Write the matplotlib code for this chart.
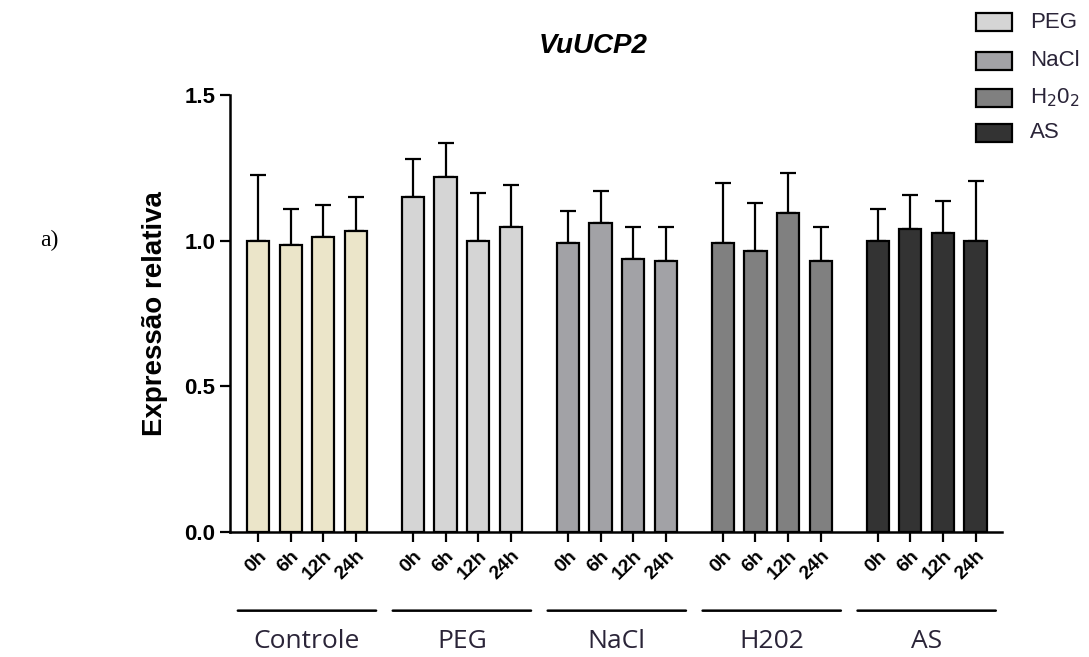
import numpy as np
import matplotlib.pyplot as plt

# dados
groups = ["Controle", "PEG", "NaCl", "H202", "AS"]
times = ["0h", "6h", "12h", "24h"]
colors = ["#ebe5c9", "#d5d5d5", "#a2a2a6", "#808080", "#333333"]

controle_mean = [1.000, 0.986, 1.014, 1.034]
controle_top = [1.225, 1.110, 1.122, 1.150]
peg_mean = [1.150, 1.219, 0.999, 1.047]
peg_top = [1.280, 1.335, 1.163, 1.191]
nacl_mean = [0.992, 1.061, 0.937, 0.930]
nacl_top = [1.102, 1.170, 1.047, 1.047]
h2o2_mean = [0.992, 0.965, 1.095, 0.930]
h2o2_top = [1.199, 1.129, 1.233, 1.047]
as_mean = [0.999, 1.041, 1.026, 0.999]
as_top = [1.108, 1.157, 1.136, 1.204]

means = [controle_mean, peg_mean, nacl_mean, h2o2_mean, as_mean]
tops = [controle_top, peg_top, nacl_top, h2o2_top, as_top]

legend_labels = ["PEG", "NaCl", r"H$_2$0$_2$", "AS"]


def main():
    W, H = 1089, 657
    fig = plt.figure(figsize=(W / 100, H / 100), dpi=100)
    ax = fig.add_axes([230 / W, (H - 532) / H, (1002 - 230) / W, (532 - 95) / H])

    step = 4.75
    width = 0.68
    xs_all, labels_all = [], []
    for g, name in enumerate(groups):
        x = g * step + np.arange(len(times))
        m = np.array(means[g])
        err = np.array(tops[g]) - m
        ax.bar(x, m, width=width, color=colors[g], edgecolor="black",
               linewidth=1.6, zorder=2)
        ax.errorbar(x, m, yerr=[np.zeros_like(err), err], fmt="none",
                    ecolor="black", elinewidth=1.6, capsize=6, capthick=1.6,
                    zorder=1)
        xs_all.extend(x)
        labels_all.extend(times)

        # linha do grupo e nome
        xc = x.mean()
        ax.annotate("", xy=(xc - 2.12, -0.27), xytext=(xc + 2.12, -0.27),
                    xycoords=("data", "data"), annotation_clip=False,
                    arrowprops=dict(arrowstyle="-", lw=1.8, color="black",
                                    shrinkA=0, shrinkB=0))
        ax.text(xc, -0.375, name, ha="center", va="center", fontsize=19,
                family="Open Sans", color="#2a2438", clip_on=False)

    ax.set_xlim(-0.86, 4 * step + 3 + 0.81)
    ax.set_ylim(0, 1.5)
    ax.set_yticks([0.0, 0.5, 1.0, 1.5])
    ax.set_yticklabels(["0.0", "0.5", "1.0", "1.5"], fontsize=16,
                       fontweight="bold", family="Liberation Sans")
    ax.set_xticks(xs_all)
    ax.set_xticklabels(labels_all, rotation=45, ha="right", va="top",
                       fontsize=14, fontweight="bold", family="Liberation Sans",
                       rotation_mode="anchor")
    ax.tick_params(axis="both", direction="out", length=7, width=1.6)
    ax.tick_params(axis="x", pad=4)
    for s in ["top", "right"]:
        ax.spines[s].set_visible(False)
    for s in ["left", "bottom"]:
        ax.spines[s].set_linewidth(1.8)

    ax.set_ylabel("Expressão relativa", fontsize=20, fontweight="bold",
                  family="Liberation Sans", labelpad=12)
    fig.text(593 / W, 1 - 46 / H, "VuUCP2", ha="center", va="center",
             fontsize=20, fontweight="bold", style="italic",
             family="Liberation Sans")
    fig.text(40 / W, 1 - 240 / H, "a)", ha="left", va="center", fontsize=17,
             family="Liberation Serif")

    # legenda manual
    leg_y = [22, 61, 98, 133]
    for lab, col, yy in zip(legend_labels, colors[1:], leg_y):
        fig.patches.append(plt.Rectangle((976 / W, 1 - (yy + 9) / H), 36 / W,
                                         18 / H, transform=fig.transFigure,
                                         facecolor=col, edgecolor="black",
                                         linewidth=1.6))
        fig.text(1030 / W, 1 - yy / H, lab, ha="left", va="center",
                 fontsize=16, family="Liberation Sans", color="#2a2438")

    fig.savefig("out.png", dpi=100)


if __name__ == "__main__":
    main()
